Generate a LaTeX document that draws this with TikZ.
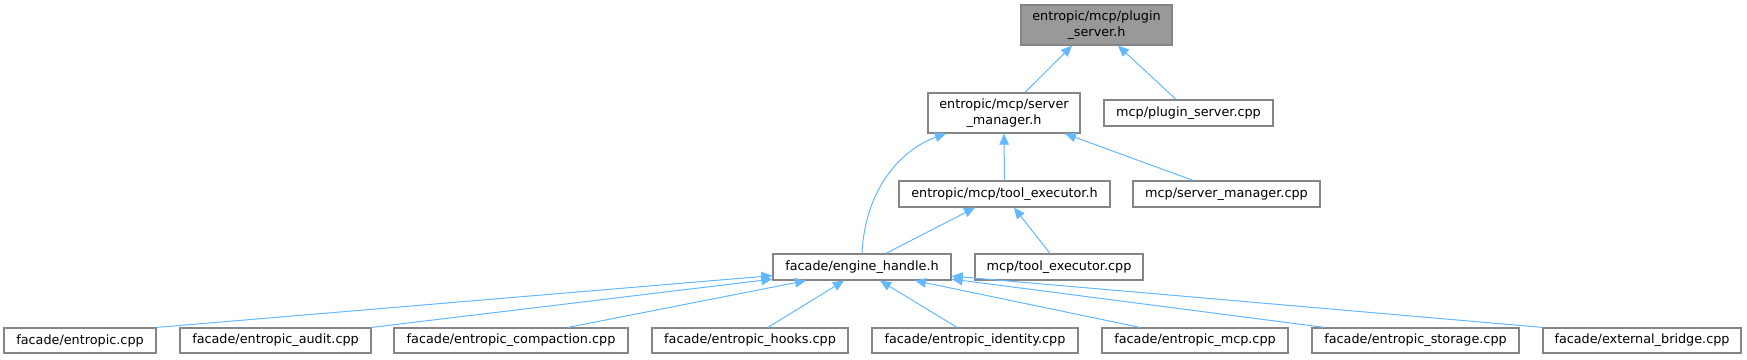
\documentclass[tikz,border=0pt]{standalone}
\usepackage{fontspec}
\setmainfont{DejaVu Sans}
\usetikzlibrary{arrows.meta,calc}
\definecolor{edgeblue}{HTML}{63B8FF}
\definecolor{boxline}{HTML}{858585}
\definecolor{topfill}{HTML}{999999}
\tikzset{
  filebox/.style={draw=boxline, line width=1.2pt, fill=white, inner sep=0pt, align=center,
    font=\fontsize{12.8}{16}\selectfont},
  topbox/.style={filebox, fill=topfill},
  dep/.style={draw=edgeblue, line width=1pt, -{Triangle[length=11pt,width=9.5pt]}},
}
\begin{document}
\begin{tikzpicture}[x=1pt,y=-1pt]
\useasboundingbox (0,0) rectangle (1747,359);
% nodes
\node[topbox, minimum width=151pt, minimum height=40pt] (psh) at (1096.5,25) {entropic/mcp/plugin\\\_server.h};
\node[filebox, minimum width=152pt, minimum height=40pt] (smh) at (1004,113) {entropic/mcp/server\\\_manager.h};
\node[filebox, minimum width=169pt, minimum height=26pt] (psc) at (1188.5,113) {mcp/plugin\_server.cpp};
\node[filebox, minimum width=211pt, minimum height=26pt] (teh) at (1004.5,194) {entropic/mcp/tool\_executor.h};
\node[filebox, minimum width=187pt, minimum height=26pt] (smc) at (1226.5,194) {mcp/server\_manager.cpp};
\node[filebox, minimum width=178pt, minimum height=26pt] (eh) at (862,267) {facade/engine\_handle.h};
\node[filebox, minimum width=168pt, minimum height=26pt] (tec) at (1059,267) {mcp/tool\_executor.cpp};
\node[filebox, minimum width=152pt, minimum height=25pt] (b1) at (80,340.5) {facade/entropic.cpp};
\node[filebox, minimum width=191pt, minimum height=25pt] (b2) at (275.5,340.5) {facade/entropic\_audit.cpp};
\node[filebox, minimum width=234pt, minimum height=25pt] (b3) at (511,340.5) {facade/entropic\_compaction.cpp};
\node[filebox, minimum width=196pt, minimum height=25pt] (b4) at (750,340.5) {facade/entropic\_hooks.cpp};
\node[filebox, minimum width=206pt, minimum height=25pt] (b5) at (975,340.5) {facade/entropic\_identity.cpp};
\node[filebox, minimum width=186pt, minimum height=25pt] (b6) at (1195,340.5) {facade/entropic\_mcp.cpp};
\node[filebox, minimum width=207pt, minimum height=25pt] (b7) at (1415.5,340.5) {facade/entropic\_storage.cpp};
\node[filebox, minimum width=198pt, minimum height=25pt] (b8) at (1642,340.5) {facade/external\_bridge.cpp};
% edges
\draw[dep] ($(smh.north)+(21,0)$) -- ($(psh.south)+(-24.5,0)$);
\draw[dep] ($(psc.north)+(-12.5,0)$) -- ($(psh.south)+(21.5,0)$);
\draw[dep] (eh.north) .. controls (865,190) and (900,150) .. ($(smh.south)+(-58,0)$);
\draw[dep] (teh.north) -- (smh.south);
\draw[dep] ($(smc.north)+(-33.5,0)$) -- ($(smh.south)+(61,0)$);
\draw[dep] ($(eh.north)+(24,0)$) -- ($(teh.south)+(-29.5,0)$);
\draw[dep] ($(tec.north)+(-9,0)$) -- ($(teh.south)+(9.5,0)$);
\draw[dep] (b1.north east) -- ($(eh.south west)+(0,-5)$);
\draw[dep] (b2.north east) -- ($(eh.south west)+(0,-1.5)$);
\draw[dep] ($(b3.north)+(57,0)$) -- ($(eh.south)+(-56,0)$);
\draw[dep] ($(b4.north)+(18,0)$) -- ($(eh.south)+(-18,0)$);
\draw[dep] ($(b5.north)+(-18,0)$) -- ($(eh.south)+(18,0)$);
\draw[dep] ($(b6.north)+(-55,0)$) -- ($(eh.south)+(53,0)$);
\draw[dep] ($(b7.north west)+(13,0)$) -- ($(eh.south east)+(0,-1.5)$);
\draw[dep] (b8.north west) -- ($(eh.south east)+(0,-4.5)$);
\end{tikzpicture}
\end{document}
